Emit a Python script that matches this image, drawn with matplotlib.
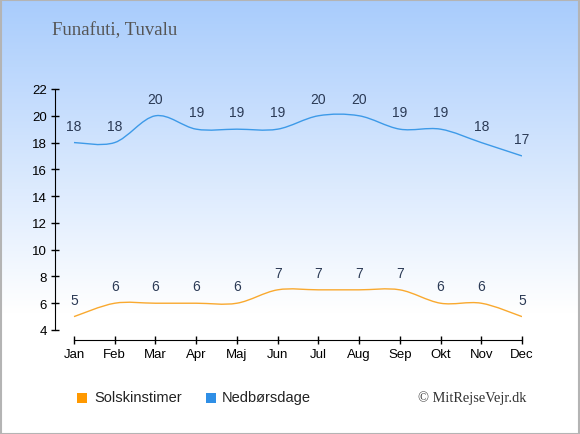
import numpy as np
import matplotlib.pyplot as plt
from matplotlib.path import Path
from matplotlib.patches import PathPatch, Rectangle

months = ['Jan', 'Feb', 'Mar', 'Apr', 'Maj', 'Jun', 'Jul', 'Aug', 'Sep', 'Okt', 'Nov', 'Dec']
sun_hours = [5, 6, 6, 6, 6, 7, 7, 7, 7, 6, 6, 5]
rain_days = [18, 18, 20, 19, 19, 19, 20, 20, 19, 19, 18, 17]
y_ticks = [4, 6, 8, 10, 12, 14, 16, 18, 20, 22]

sun_color = '#f9a92f'
rain_color = '#3d9ae8'
label_color = '#2b3a55'


def smooth_path(xs, ys):
    # catmull-rom style bezier through the points (rendering only)
    pts = np.column_stack([xs, ys]).astype(float)
    n = len(pts)
    verts = [pts[0]]
    codes = [Path.MOVETO]
    for i in range(n - 1):
        p0 = pts[max(i - 1, 0)]
        p1 = pts[i]
        p2 = pts[i + 1]
        p3 = pts[min(i + 2, n - 1)]
        c1 = p1 + (p2 - p0) / 6.0
        c2 = p2 - (p3 - p1) / 6.0
        verts += [c1, c2, p2]
        codes += [Path.CURVE4] * 3
    return Path(verts, codes)


fig = plt.figure(figsize=(5.8, 4.35), dpi=100)

# background gradient
bg = fig.add_axes([0, 0, 1, 1], zorder=0)
grad = np.linspace(0, 1, 256).reshape(-1, 1)
top = np.array([0.66, 0.80, 0.99])
white = np.array([1.0, 1.0, 1.0])
t = np.clip(grad / 0.72, 0, 1)
img = top * (1 - t[..., None]) + white * t[..., None]
bg.imshow(img, aspect='auto', extent=[0, 1, 0, 1], origin='upper')
bg.add_patch(Rectangle((0.001, 0.001), 0.998, 0.997, fill=False, edgecolor='#b4b4b4', linewidth=1.5))
bg.set_xlim(0, 1)
bg.set_ylim(0, 1)
bg.axis('off')

left_px = 55
ax = fig.add_axes([left_px / 580, (435 - 341) / 435, (522 - left_px) / 580, (341 - 90) / 435], zorder=1)
ax.patch.set_alpha(0)
x = np.arange(len(months))
px_per_unit = (331 - 90) / 18
ax.set_xlim(-(74 - left_px) / ((522 - 74) / 11), 11)
ax.set_ylim(4 - 10 / px_per_unit, 22)

ax.add_patch(PathPatch(smooth_path(x, rain_days), fill=False, edgecolor=rain_color, linewidth=1))
ax.add_patch(PathPatch(smooth_path(x, sun_hours), fill=False, edgecolor=sun_color, linewidth=1))

for xi, v in zip(x, rain_days):
    ax.annotate(str(v), (xi, v), xytext=(0, 7), textcoords='offset points', ha='center', va='bottom',
                fontsize=10, color=label_color, family='Liberation Sans')
for xi, v in zip(x, sun_hours):
    ax.annotate(str(v), (xi, v), xytext=(0, 7), textcoords='offset points', ha='center', va='bottom',
                fontsize=10, color=label_color, family='Liberation Sans')

for s in ['top', 'right']:
    ax.spines[s].set_visible(False)
ax.spines['left'].set_bounds(4, 22)
ax.spines['bottom'].set_bounds(0, 11)
ax.set_yticks(y_ticks)
ax.set_xticks(x)
ax.set_xticklabels(months)
ax.tick_params(axis='both', labelsize=9.5, colors='black', length=6, width=1, direction='inout', pad=3)
for lab in ax.get_xticklabels() + ax.get_yticklabels():
    lab.set_family('Liberation Sans')

fig.text(52 / 580, 1 - 31 / 435, 'Funafuti, Tuvalu', fontsize=13.5, color='#555555',
         family='Liberation Serif', va='center', ha='left')

# legend
fig.patches.append(Rectangle((77 / 580, 1 - 404 / 435), 10 / 580, 10 / 435, transform=fig.transFigure,
                             facecolor='#ff9900', edgecolor='none'))
fig.text(94 / 580, 1 - 398.5 / 435, 'Solskinstimer', fontsize=10.5, va='center', ha='left',
         family='Liberation Sans', color='#222222')
fig.patches.append(Rectangle((206 / 580, 1 - 404 / 435), 10 / 580, 10 / 435, transform=fig.transFigure,
                             facecolor='#2f8fe6', edgecolor='none'))
fig.text(222 / 580, 1 - 398.5 / 435, 'Nedbørsdage', fontsize=10.5, va='center', ha='left',
         family='Liberation Sans', color='#222222')
fig.text(526 / 580, 1 - 398 / 435, '© MitRejseVejr.dk', fontsize=10.4, va='center', ha='right',
         family='Liberation Serif', color='#333333')

fig.savefig('out.png', dpi=100)
